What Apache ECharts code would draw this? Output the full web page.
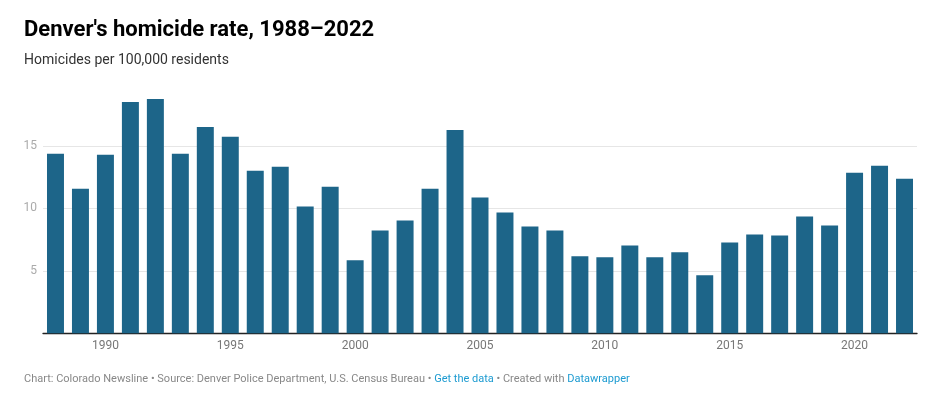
<!DOCTYPE html>
<html>
<head>
<meta charset="utf-8">
<script src="https://cdn.jsdelivr.net/npm/echarts@6/dist/echarts.min.js"></script>
<style>
html,body{margin:0;padding:0;background:#fff;}
#chart{width:938px;height:400px;}
</style>
</head>
<body>
<div id="chart"></div>
<script>
const years = ['1988','1989','1990','1991','1992','1993','1994','1995','1996','1997','1998','1999','2000','2001','2002','2003','2004','2005','2006','2007','2008','2009','2010','2011','2012','2013','2014','2015','2016','2017','2018','2019','2020','2021','2022'];
const rates = [14.36,11.57,14.28,18.5,18.74,14.36,16.51,15.72,13.01,13.33,10.14,11.73,5.84,8.23,9.03,11.57,16.27,10.86,9.66,8.55,8.23,6.16,6.08,7.03,6.08,6.48,4.65,7.27,7.91,7.83,9.34,8.63,12.85,13.41,12.37];
const yTicks = [0,5,10,15,20];

const chart = echarts.init(document.getElementById('chart'), null, {renderer:'canvas'});
chart.setOption({
  animation:false,
  textStyle:{fontFamily:'Roboto'},
  title:[
    {text:"Denver's homicide rate, 1988–2022", left:24, top:19, padding:0,
     textStyle:{fontFamily:'Roboto',fontSize:22,fontWeight:'bold',color:'#000'}},
    {text:'Homicides per 100,000 residents', left:24, top:53, padding:0,
     textStyle:{fontFamily:'Roboto',fontSize:14,fontWeight:'normal',color:'#333'}},
    {text:'{a|Chart: Colorado Newsline • Source: Denver Police Department, U.S. Census Bureau • }{b|Get the data}{a| • Created with }{b|Datawrapper}',
     left:24, top:374, padding:0,
     textStyle:{rich:{
       a:{fontFamily:'Roboto',fontSize:11,fontWeight:'normal',color:'#888'},
       b:{fontFamily:'Roboto',fontSize:11,fontWeight:'normal',color:'#1d9bd1'}
     }}}
  ],
  grid:{left:43, right:21, top:83.3, bottom:66.7, containLabel:false},
  xAxis:{
    type:'category', data:years,
    axisLine:{lineStyle:{color:'#222',width:1.3}},
    axisTick:{show:false},
    axisLabel:{
      interval:(i,v)=>parseInt(v)%5===0,
      color:'#777', fontSize:12, fontFamily:'Roboto', margin:7
    }
  },
  yAxis:{
    type:'value', min:0, max:20, interval:5,
    axisLine:{show:false}, axisTick:{show:false},
    axisLabel:{
      formatter:v=>(v===0||v===20)?'':String(v),
      color:'#aaa', fontSize:12, fontFamily:'Roboto', margin:6
    },
    splitLine:{lineStyle:{color:yTicks.map(t=>t===20?'rgba(0,0,0,0)':'#e6e6e6'), width:1}}
  },
  series:[{
    type:'bar', data:rates, barCategoryGap:'32%',
    itemStyle:{color:'#1d6589'}
  }]
});
</script>
</body>
</html>
